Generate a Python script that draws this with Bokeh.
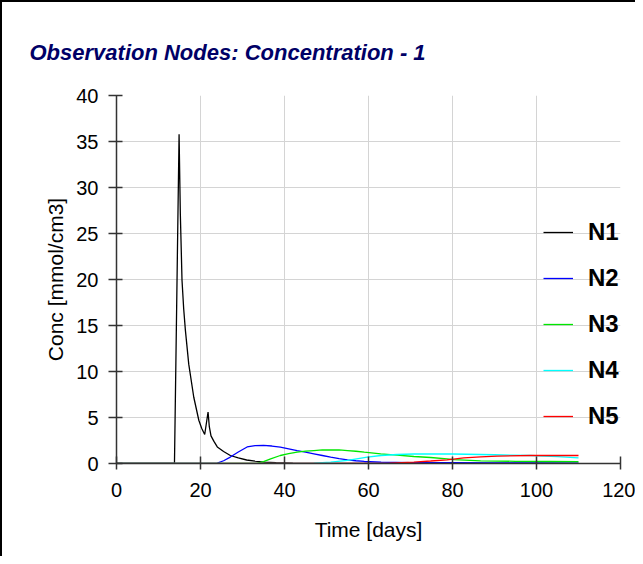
from bokeh.plotting import figure
from bokeh.models import Range1d, FixedTicker, Legend, LegendItem
from bokeh.embed import file_html
from bokeh.resources import INLINE

# ---- data ----
n1_t = [0, 13.8, 14.9, 15.2, 15.6, 16.0, 16.4, 17.2, 18.4, 19.6, 20.3, 21.0, 21.8, 22.1, 22.5,
        23.2, 24.0, 25.5, 27.1, 29, 31, 33, 35, 38, 42, 50, 110]
n1_v = [0, 0, 35.8, 27.1, 19.9, 16.8, 14.5, 10.8, 7.2, 4.7, 3.8, 3.15, 5.6, 4.0, 3.0,
        2.4, 1.8, 1.3, 0.87, 0.6, 0.38, 0.25, 0.15, 0.08, 0.03, 0.01, 0]

n2_t = [0, 21, 24, 25.5, 27.1, 29, 31.1, 33, 35, 37, 39, 41, 43, 45, 47, 49, 51, 53, 55, 57,
        59, 63, 70, 80, 90, 100, 110]
n2_v = [0, 0, 0.05, 0.3, 0.7, 1.25, 1.8, 1.95, 1.96, 1.9, 1.77, 1.6, 1.41, 1.23, 1.05, 0.87,
        0.69, 0.53, 0.4, 0.3, 0.22, 0.15, 0.1, 0.08, 0.07, 0.06, 0.05]

n3_t = [0, 30, 33.4, 35, 36.7, 39, 41, 43, 45, 47, 49, 51, 53, 55, 57, 59, 62.9, 66.8, 70.8,
        74.8, 78.7, 80.3, 86.7, 95, 103, 110]
n3_v = [0, 0, 0.02, 0.2, 0.5, 0.87, 1.07, 1.23, 1.35, 1.41, 1.47, 1.49, 1.47, 1.41, 1.33,
        1.23, 1.05, 0.9, 0.76, 0.65, 0.5, 0.42, 0.28, 0.24, 0.22, 0.2]

n4_t = [0, 42, 47, 51, 55, 59.7, 63, 66.8, 70.8, 74.8, 80, 90, 98.6, 105, 110]
n4_v = [0, 0, 0.03, 0.15, 0.35, 0.69, 0.87, 0.98, 1.03, 1.05, 1.03, 0.95, 0.87, 0.75, 0.62]

n5_t = [0, 60, 65, 70.8, 74.8, 78.7, 82.7, 86.7, 90.6, 98.6, 104, 110]
n5_v = [0, 0, 0.03, 0.15, 0.27, 0.4, 0.62, 0.72, 0.8, 0.87, 0.87, 0.87]

series_names = ["N1", "N2", "N3", "N4", "N5"]
x_ticks = [0, 20, 40, 60, 80, 100, 120]
y_ticks = [0, 5, 10, 15, 20, 25, 30, 35, 40]

FONT = "Liberation Sans"

p = figure(width=635, height=556, output_backend="svg", toolbar_location=None,
           x_range=Range1d(0, 120), y_range=Range1d(0, 40),
           min_border_left=114, min_border_right=17, min_border_top=93, min_border_bottom=95)
p.styles = {"border-left": "2px solid black", "border-top": "2px solid black"}

p.title.text = "Observation Nodes: Concentration - 1"
p.title.text_font = FONT
p.title.text_font_size = "22px"
p.title.text_font_style = "bold italic"
p.title.text_color = "#000066"
p.title.align = "left"
p.title.offset = -87
p.title.standoff = 62

p.outline_line_color = None
p.background_fill_color = "white"
p.border_fill_color = "white"

colors = ["#000000", "#0000ff", "#00e600", "#00ffff", "#ff0000"]
data = [(n1_t, n1_v), (n2_t, n2_v), (n3_t, n3_v), (n4_t, n4_v), (n5_t, n5_v)]
renderers = []
for (t, v), c in zip(data, colors):
    renderers.append(p.line(t, v, line_color=c, line_width=1.3))

for ax in (p.xaxis[0], p.yaxis[0]):
    ax.axis_line_color = "#333333"
    ax.axis_line_width = 1.5
    ax.major_tick_line_color = "#333333"
    ax.major_tick_line_width = 1.5
    ax.minor_tick_line_color = None
    ax.major_label_text_font = FONT
    ax.major_label_text_font_size = "20px"
    ax.major_label_text_color = "black"
    ax.axis_label_text_font = FONT
    ax.axis_label_text_font_size = "21px"
    ax.axis_label_text_font_style = "normal"
    ax.axis_label_text_color = "black"

p.xaxis.ticker = FixedTicker(ticks=x_ticks)
p.yaxis.ticker = FixedTicker(ticks=y_ticks)
p.xaxis.axis_label = "Time [days]"
p.yaxis.axis_label = "Conc [mmol/cm3]"
p.xaxis.major_tick_in = 7
p.xaxis.major_tick_out = 6
p.yaxis.major_tick_in = 6
p.yaxis.major_tick_out = 8
p.xaxis.major_label_standoff = 13
p.yaxis.major_label_standoff = 10
p.xaxis.axis_label_standoff = 18
p.yaxis.axis_label_standoff = 6

p.xgrid.ticker = FixedTicker(ticks=x_ticks)
p.ygrid.ticker = FixedTicker(ticks=y_ticks)
p.grid.grid_line_color = "#d4d4d4"
p.grid.grid_line_width = 1

legend = Legend(items=[LegendItem(label=n, renderers=[r]) for n, r in zip(series_names, renderers)],
                location=(427, 33), orientation="vertical",
                glyph_width=30, glyph_height=20, label_standoff=15, spacing=18,
                padding=0, margin=0,
                label_text_font=FONT, label_text_font_size="24px", label_text_font_style="bold",
                label_text_color="black",
                background_fill_alpha=0, border_line_color=None)
p.add_layout(legend, "center")

open("out.html", "w").write(file_html(p, INLINE))
